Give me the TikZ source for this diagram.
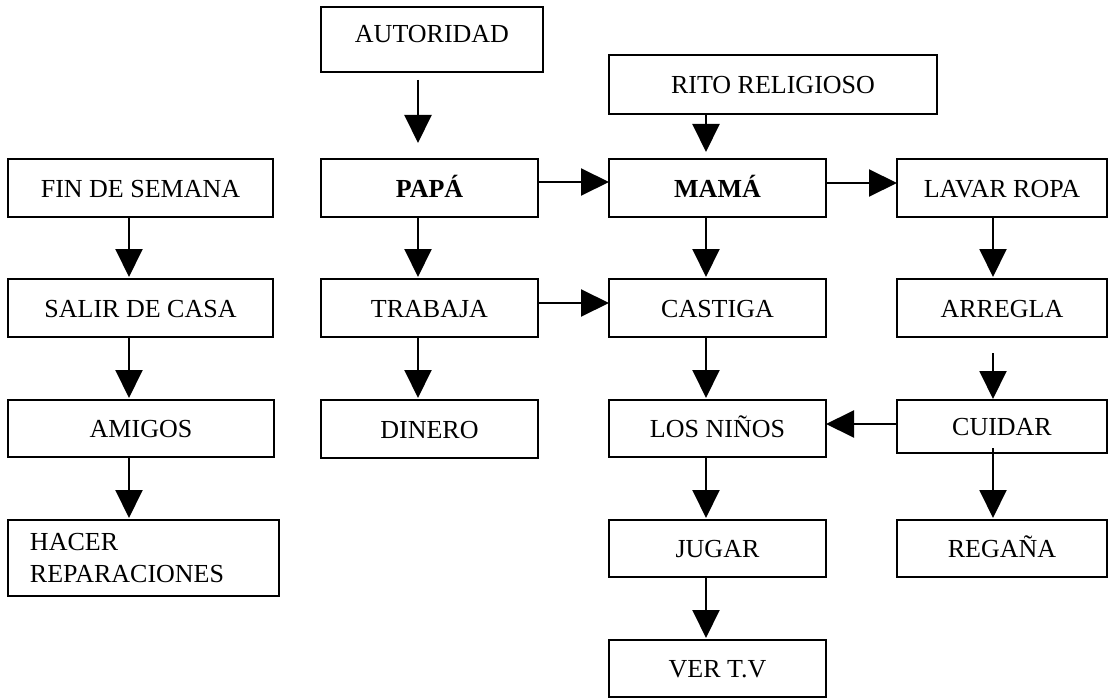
\documentclass[tikz,border=0pt]{standalone}
\usepackage{fontspec}
\setmainfont{Liberation Serif}
\usetikzlibrary{arrows.meta}
\begin{document}
\begin{tikzpicture}[x=1pt,y=-1pt,
  box/.style={draw, line width=2pt, font=\fontsize{26}{32}\selectfont, text height=18pt, text depth=0pt, inner sep=0pt, outer sep=0pt, minimum height=58pt},
  arr/.style={line width=2pt, -{Triangle[length=28pt,width=27pt]}}]
\useasboundingbox (0,0) rectangle (1109,698);
% column 1
\node[box, minimum width=265pt] (fin) at (140.5,188) {FIN DE SEMANA};
\node[box, minimum width=265pt] (salir) at (140.5,308) {SALIR DE CASA};
\node[box, minimum width=266pt, minimum height=57pt] (amigos) at (141,428.5) {AMIGOS};
\node[draw, line width=2pt, font=\fontsize{26}{32}\selectfont, inner ysep=0pt, inner xsep=22pt, outer sep=0pt, text width=227pt, align=left, minimum width=271pt, minimum height=76pt] (hacer) at (143.5,558) {HACER\\REPARACIONES};
% column 2
\node[box, minimum width=222pt, minimum height=65pt, text depth=11pt] (autoridad) at (432,39.5) {AUTORIDAD};
\node[box, minimum width=217pt] (papa) at (429.5,188) {\textbf{PAPÁ}};
\node[box, minimum width=217pt] (trabaja) at (429.5,308) {TRABAJA};
\node[box, minimum width=217pt] (dinero) at (429.5,429) {DINERO};
% column 3
\node[box, minimum width=328pt, minimum height=59pt] (rito) at (773,84.5) {RITO RELIGIOSO};
\node[box, minimum width=217pt] (mama) at (717.5,188) {\textbf{MAMÁ}};
\node[box, minimum width=217pt] (castiga) at (717.5,308) {CASTIGA};
\node[box, minimum width=217pt, minimum height=57pt] (ninos) at (717.5,428.5) {LOS NIÑOS};
\node[box, minimum width=217pt, minimum height=57pt] (jugar) at (717.5,548.5) {JUGAR};
\node[box, minimum width=217pt, minimum height=57pt] (ver) at (717.5,668.5) {VER T.V};
% column 4
\node[box, minimum width=210pt] (lavar) at (1002,188) {LAVAR ROPA};
\node[box, minimum width=210pt] (arregla) at (1002,308) {ARREGLA};
\node[box, minimum width=210pt, minimum height=53pt] (cuidar) at (1002,426.5) {CUIDAR};
\node[box, minimum width=210pt, minimum height=57pt] (regana) at (1002,548.5) {REGAÑA};
% column 1 arrows
\draw[arr, shorten >=2pt] ([xshift=-11.5pt]fin.south) -- ([xshift=-11.5pt]fin.south |- salir.north);
\draw[arr, shorten >=2pt] ([xshift=-11.5pt]salir.south) -- ([xshift=-11.5pt]salir.south |- amigos.north);
\draw[arr, shorten >=2pt] ([xshift=-12pt]amigos.south) -- ([xshift=-12pt]amigos.south |- hacer.north);
% column 2 arrows
\coordinate (a1) at ([xshift=-11.5pt]papa.north);
\draw[arr, shorten <=8pt, shorten >=16pt] (autoridad.south -| a1) -- (a1);
\draw[arr, shorten >=2pt] ([xshift=-11.5pt]papa.south) -- ([xshift=-11.5pt]trabaja.north);
\draw[arr, shorten >=2pt] ([xshift=-11.5pt]trabaja.south) -- ([xshift=-11.5pt]dinero.north);
% column 3 arrows
\coordinate (m1) at ([xshift=-11.5pt]mama.north);
\draw[arr, shorten >=7pt] (rito.south -| m1) -- (m1);
\draw[arr, shorten >=2pt] ([xshift=-11.5pt]mama.south) -- ([xshift=-11.5pt]castiga.north);
\draw[arr, shorten >=2pt] ([xshift=-11.5pt]castiga.south) -- ([xshift=-11.5pt]ninos.north);
\draw[arr, shorten >=2pt] ([xshift=-11.5pt]ninos.south) -- ([xshift=-11.5pt]jugar.north);
\draw[arr, shorten >=2pt] ([xshift=-11.5pt]jugar.south) -- ([xshift=-11.5pt]ver.north);
% column 4 arrows
\draw[arr, shorten >=2pt] ([xshift=-9pt]lavar.south) -- ([xshift=-9pt]arregla.north);
\draw[arr, shorten <=16pt, shorten >=1pt] ([xshift=-9pt]arregla.south) -- ([xshift=-9pt]cuidar.north);
\draw[arr, shorten >=2pt] ([xshift=-9pt,yshift=5pt]cuidar.south) -- ([xshift=-9pt]regana.north);
% horizontal arrows
\draw[arr] ([yshift=6pt]papa.east) -- ([yshift=6pt]mama.west);
\draw[arr] ([yshift=5pt]mama.east) -- ([yshift=5pt]lavar.west);
\draw[arr] ([yshift=5pt]trabaja.east) -- ([yshift=5pt]castiga.west);
\draw[arr] ([yshift=2.5pt]cuidar.west) -- ([yshift=2.5pt]cuidar.west -| ninos.east);
\end{tikzpicture}
\end{document}
